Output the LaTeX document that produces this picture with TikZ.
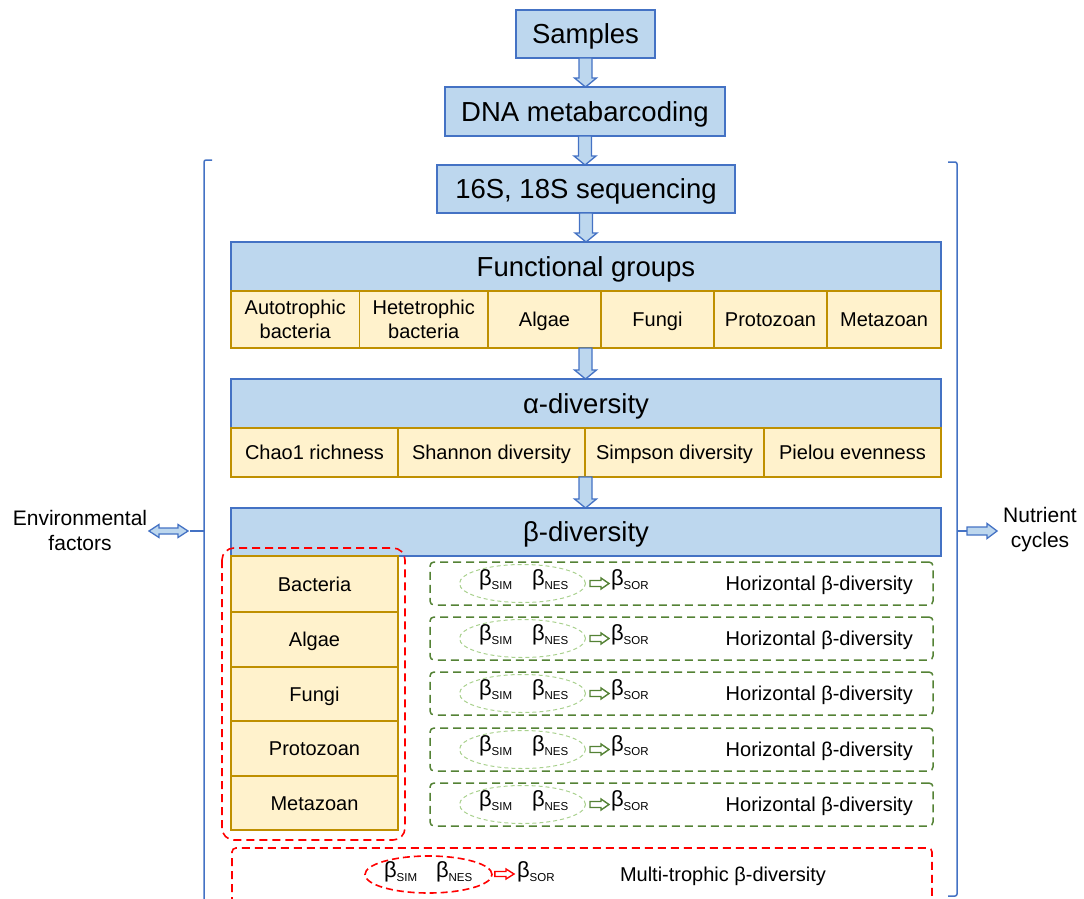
\documentclass[tikz,border=0pt]{standalone}
\usepackage{fontspec}
\setmainfont{Liberation Sans}
\usetikzlibrary{calc,shapes.geometric}
\definecolor{bfill}{HTML}{BDD7EE}
\definecolor{bline}{HTML}{4472C4}
\definecolor{yfill}{HTML}{FFF2CC}
\definecolor{yline}{HTML}{BF9000}
\definecolor{gline}{HTML}{548235}
\definecolor{gell}{HTML}{A9D18E}
\definecolor{garrow}{HTML}{548235}
\definecolor{rline}{HTML}{FF0000}
\newcommand\bx[7]{\node[#6, minimum width={#4-#2}, minimum height={#5-#3}] (#1) at ({(#2+#4)/2},{(#3+#5)/2}) {#7};}
\newcommand\bsub[1]{{\fontsize{22}{24}\selectfont β}\raisebox{-4.2pt}{\fontsize{11.5}{13}\selectfont #1}}
\newcommand\vblock[2]{\draw[barrow] let \p1=(#1), \p2=(#2) in
  (\x1-6.5pt,\y1) -- (\x1+6.5pt,\y1) -- (\x1+6.5pt,\y2+9pt) -- (\x1+11pt,\y2+9pt) -- (\x1,\y2)
  -- (\x1-11pt,\y2+9pt) -- (\x1-6.5pt,\y2+9pt) -- cycle;}
\newcommand\hblock[6]{\draw[#6] let \p1=(#1), \p2=(#2) in
  (\x1,\y1+#3) -- (\x2-#5,\y1+#3) -- (\x2-#5,\y1+#4) -- (\x2,\y1) -- (\x2-#5,\y1-#4)
  -- (\x2-#5,\y1-#3) -- (\x1,\y1-#3) -- cycle;}
\newcommand\dblock[6]{\draw[#6] let \p1=(#1), \p2=(#2) in
  (\x1,\y1) -- (\x1+#5,\y1+#4) -- (\x1+#5,\y1+#3) -- (\x2-#5,\y1+#3) -- (\x2-#5,\y1+#4)
  -- (\x2,\y1) -- (\x2-#5,\y1-#4) -- (\x2-#5,\y1-#3) -- (\x1+#5,\y1-#3) -- (\x1+#5,\y1-#4) -- cycle;}
\begin{document}
\begin{tikzpicture}[x=1pt,y=-1pt,
  bluebox/.style={draw=bline, fill=bfill, line width=1.5pt, font=\fontsize{27.5}{33}\selectfont, inner sep=0pt, outer sep=0pt, text height=19.8pt, text depth=0pt},
  cellbox2/.style={draw=yline, fill=yfill, line width=1.8pt, font=\fontsize{20}{24.5}\selectfont, align=center, inner sep=0pt, outer sep=0pt},
  cellbox/.style={cellbox2, text height=14.4pt, text depth=0pt},
  barrow/.style={draw=bline, fill=bfill, line width=1.3pt, line join=miter},
  brk/.style={draw=bline, line width=1.5pt},
  gbox/.style={draw=gline, line width=1.5pt, dash pattern=on 8pt off 5pt, rounded corners=4pt, inner sep=0pt},
  gellipse/.style={ellipse, draw=gell, line width=1pt, dash pattern=on 4pt off 3pt, minimum width=126pt, minimum height=38pt, inner sep=0pt},
  rellipse/.style={ellipse, draw=rline, line width=1.6pt, dash pattern=on 7pt off 4pt, minimum width=127pt, minimum height=37pt, inner sep=0pt},
  rdash/.style={draw=rline, line width=1.6pt, dash pattern=on 8pt off 5pt},
  bnode/.style={inner sep=0pt, outer sep=0pt},
  smalltxt/.style={inner sep=0pt, font=\fontsize{20}{24}\selectfont},
  sidetxt/.style={inner sep=0pt, align=center, font=\fontsize{21}{25}\selectfont},
  garr/.style={draw=garrow, fill=white, line width=1.4pt, line join=miter},
  rarr/.style={draw=rline, fill=white, line width=1.4pt, line join=miter}]
\useasboundingbox (0,0) rectangle (1084,899);

% main flow
\bx{samples}{516}{10}{655}{58}{bluebox}{Samples}
\bx{dna}{445}{87}{725}{136}{bluebox}{DNA metabarcoding}
\bx{seq}{437}{165}{735}{213}{bluebox}{16S, 18S sequencing}
\bx{fg}{231}{242}{941}{291}{bluebox}{Functional groups}
\bx{auto}{231}{291}{359.5}{348}{cellbox2}{Autotrophic\\bacteria}
\bx{hete}{359.5}{291}{488}{348}{cellbox2}{Hetetrophic\\bacteria}
\bx{algae}{488}{291}{601}{348}{cellbox}{Algae}
\bx{fungi}{601}{291}{714}{348}{cellbox}{Fungi}
\bx{proto}{714}{291}{827}{348}{cellbox}{Protozoan}
\bx{meta}{827}{291}{941}{348}{cellbox}{Metazoan}
\bx{alpha}{231}{379}{941}{428}{bluebox}{α-diversity}
\bx{chao}{231}{428}{398}{477}{cellbox}{Chao1 richness}
\bx{shannon}{398}{428}{585}{477}{cellbox}{Shannon diversity}
\bx{simpson}{585}{428}{764}{477}{cellbox}{Simpson diversity}
\bx{pielou}{764}{428}{941}{477}{cellbox}{Pielou evenness}
\bx{beta}{231}{508}{941}{556}{bluebox}{β-diversity}
\bx{cbac}{231}{556}{398}{612}{cellbox}{Bacteria}
\bx{calg}{231}{612}{398}{667}{cellbox}{Algae}
\bx{cfun}{231}{667}{398}{721}{cellbox}{Fungi}
\bx{cpro}{231}{721}{398}{776}{cellbox}{Protozoan}
\bx{cmet}{231}{776}{398}{830}{cellbox}{Metazoan}

% block arrows
\vblock{samples.south}{dna.north}
\vblock{dna.south}{seq.north}
\vblock{seq.south}{fg.north}
\vblock{samples.south |- algae.south}{samples.south |- alpha.north}
\vblock{samples.south |- shannon.south}{samples.south |- beta.north}

% red dashed frame around the column
\draw[rdash, rounded corners=12pt] (222,548) rectangle (405,840);

% horizontal beta rows
\foreach \i/\yy in {1/583.5, 2/638.5, 3/693.5, 4/749.5, 5/804.5}{
  \node[gbox, minimum width=503pt, minimum height=43pt] (hb\i) at (681.5,\yy) {};
  \node[gellipse] (ge\i) at (522.5,\yy) {};
  \node[bnode, anchor=base west] (sim\i) at (479,\yy+2) {\bsub{SIM}};
  \node[bnode, anchor=base west] (nes\i) at (532,\yy+2) {\bsub{NES}};
  \node[bnode, anchor=base west] (sor\i) at (611,\yy+2) {\bsub{SOR}};
  \hblock{$(ge\i.east)+(4,0)$}{$(sor\i.west |- ge\i.east)+(-2,0)$}{3pt}{5.5pt}{8pt}{garr}
  \node[smalltxt, anchor=base east] (ht\i) at (913,\yy+7) {Horizontal β-diversity};
}

% multi-trophic row
\draw[rdash, rounded corners=4pt] (232,905) -- (232,848) -- (932,848) -- (932,905);
\node[rellipse] (re) at (428.5,874.5) {};
\node[bnode, anchor=base west] (rsim) at (384,877.5) {\bsub{SIM}};
\node[bnode, anchor=base west] (rnes) at (436,877.5) {\bsub{NES}};
\node[bnode, anchor=base west] (rsor) at (517,877.5) {\bsub{SOR}};
\hblock{$(re.east)+(2,-0.5)$}{$(rsor.west |- re.east)+(-3,-0.5)$}{2.5pt}{5pt}{8pt}{rarr}
\node[smalltxt, anchor=base] (mt) at (723,881) {Multi-trophic β-diversity};

% brackets
\coordinate (lbtop) at (212,160);
\coordinate (lbmid) at (204,531);
\coordinate (lbtick) at (190,531);
\draw[brk, rounded corners=2pt] (lbtop) -- (204,160) -- (204,905);
\draw[brk] (lbmid) -- (lbtick);
\coordinate (rbmid) at (957,531);
\coordinate (rbtick) at (967,531);
\draw[brk, rounded corners=2pt] (948,162) -- (957,162) -- (957,896) -- (948,896);
\draw[brk] (rbmid) -- (rbtick);

% side labels and arrows
\node[sidetxt] (env) at (80,530) {Environmental\\factors};
\node[sidetxt] (nut) at (1040,530) {Nutrient\\cycles};
\coordinate (la) at (149,531);
\coordinate (lb) at (188,531);
\dblock{la}{lb}{3pt}{6.5pt}{10pt}{barrow}
\coordinate (ra) at (997,531);
\hblock{rbtick}{ra}{4pt}{7.5pt}{10pt}{barrow}
\end{tikzpicture}
\end{document}
